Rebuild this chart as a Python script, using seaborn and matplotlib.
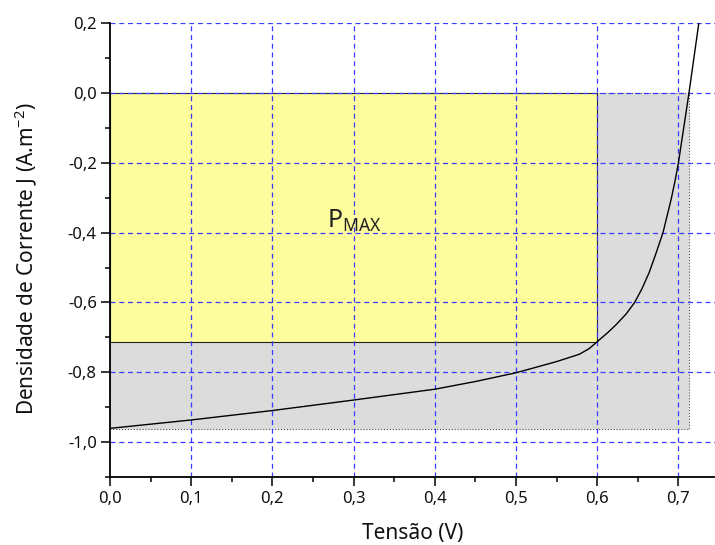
import matplotlib
matplotlib.use("Agg")
import matplotlib.pyplot as plt
from matplotlib.ticker import MultipleLocator, FuncFormatter
import seaborn as sns
import pandas as pd

# J-V curve of the cell
tensao = [0.0, 0.1, 0.2, 0.3, 0.4, 0.45, 0.5, 0.55, 0.578, 0.59, 0.6, 0.613, 0.623, 0.6355,
          0.646, 0.655, 0.664, 0.6724, 0.681, 0.691, 0.696, 0.700, 0.713, 0.725]
densidade = [-0.96, -0.936, -0.909, -0.879, -0.848, -0.826, -0.801, -0.769, -0.748, -0.732,
             -0.712, -0.686, -0.664, -0.633, -0.600, -0.561, -0.514, -0.459, -0.400, -0.305,
             -0.250, -0.200, 0.0, 0.198]

# characteristic points
v_oc, j_sc = 0.713, -0.961
v_mp, j_mp = 0.6, -0.712

x_ticks = [0.0, 0.1, 0.2, 0.3, 0.4, 0.5, 0.6, 0.7]
y_ticks = [0.2, 0.0, -0.2, -0.4, -0.6, -0.8, -1.0]

sns.set_theme(style="white")
plt.rcParams["font.family"] = ["Noto Sans", "DejaVu Sans"]
plt.rcParams["mathtext.fontset"] = "custom"
plt.rcParams["mathtext.rm"] = "Noto Sans"
plt.rcParams["mathtext.it"] = "Noto Sans"

fig = plt.figure(figsize=(7.15, 5.45), dpi=100)
ax = fig.add_axes([0.1538, 0.1242, 0.8462, 0.834])

df = pd.DataFrame({"V": tensao, "J": densidade})

# rectangles: Voc x Jsc (gray) and Vmp x Jmp (yellow)
ax.fill_between([0, v_oc], [j_sc, j_sc], [0, 0], facecolor="#dcdcdc",
                edgecolor="#555555", linewidth=0.8, linestyle=":", zorder=1)
ax.fill_between([0, v_mp], [j_mp, j_mp], [0, 0], facecolor="#fdfd9e",
                edgecolor="#222222", linewidth=0.8, zorder=1.2)

# dashed grid on top of fills
for xv in x_ticks[1:]:
    ax.axvline(xv, color="#3a3aff", lw=0.9, ls=(0, (4, 3)), zorder=2)
for yv in y_ticks:
    ax.axhline(yv, color="#3a3aff", lw=0.9, ls=(0, (4, 3)), zorder=2)

sns.lineplot(data=df, x="V", y="J", ax=ax, color="black", lw=1.0, sort=False, zorder=3)

ax.text(0.267, -0.387, r"P$_{\mathregular{MAX}}$", fontsize=18, color="#222222", zorder=4)

ax.set_xlim(0, 0.745)
ax.set_ylim(-1.1, 0.2)
ax.xaxis.set_major_locator(MultipleLocator(0.1))
ax.xaxis.set_minor_locator(MultipleLocator(0.05))
ax.yaxis.set_major_locator(MultipleLocator(0.2))
ax.yaxis.set_minor_locator(MultipleLocator(0.1))

fmt = FuncFormatter(lambda v, p: f"{v:.1f}".replace(".", ",").replace("-0,0", "0,0"))
ax.xaxis.set_major_formatter(fmt)
ax.yaxis.set_major_formatter(fmt)

for side in ["top", "right"]:
    ax.spines[side].set_visible(False)
for side in ["left", "bottom"]:
    ax.spines[side].set_color("black")
    ax.spines[side].set_linewidth(1.3)

ax.tick_params(which="major", direction="out", length=6.5, width=1.1, color="black",
               labelsize=12, pad=3, labelcolor="#111111")
ax.tick_params(which="minor", direction="out", length=3.4, width=1.1, color="black")
ax.tick_params(axis="x", which="both", bottom=True)
ax.tick_params(axis="y", which="both", left=True)

ax.set_xlabel("Tensão (V)", fontsize=15, labelpad=12, color="#111111")
ax.set_ylabel(r"Densidade de Corrente J (A.m$^{\mathregular{-2}}$)", fontsize=15,
              color="#111111")
ax.yaxis.set_label_coords(-0.118, 0.482)

fig.savefig("out.png", dpi=100)
